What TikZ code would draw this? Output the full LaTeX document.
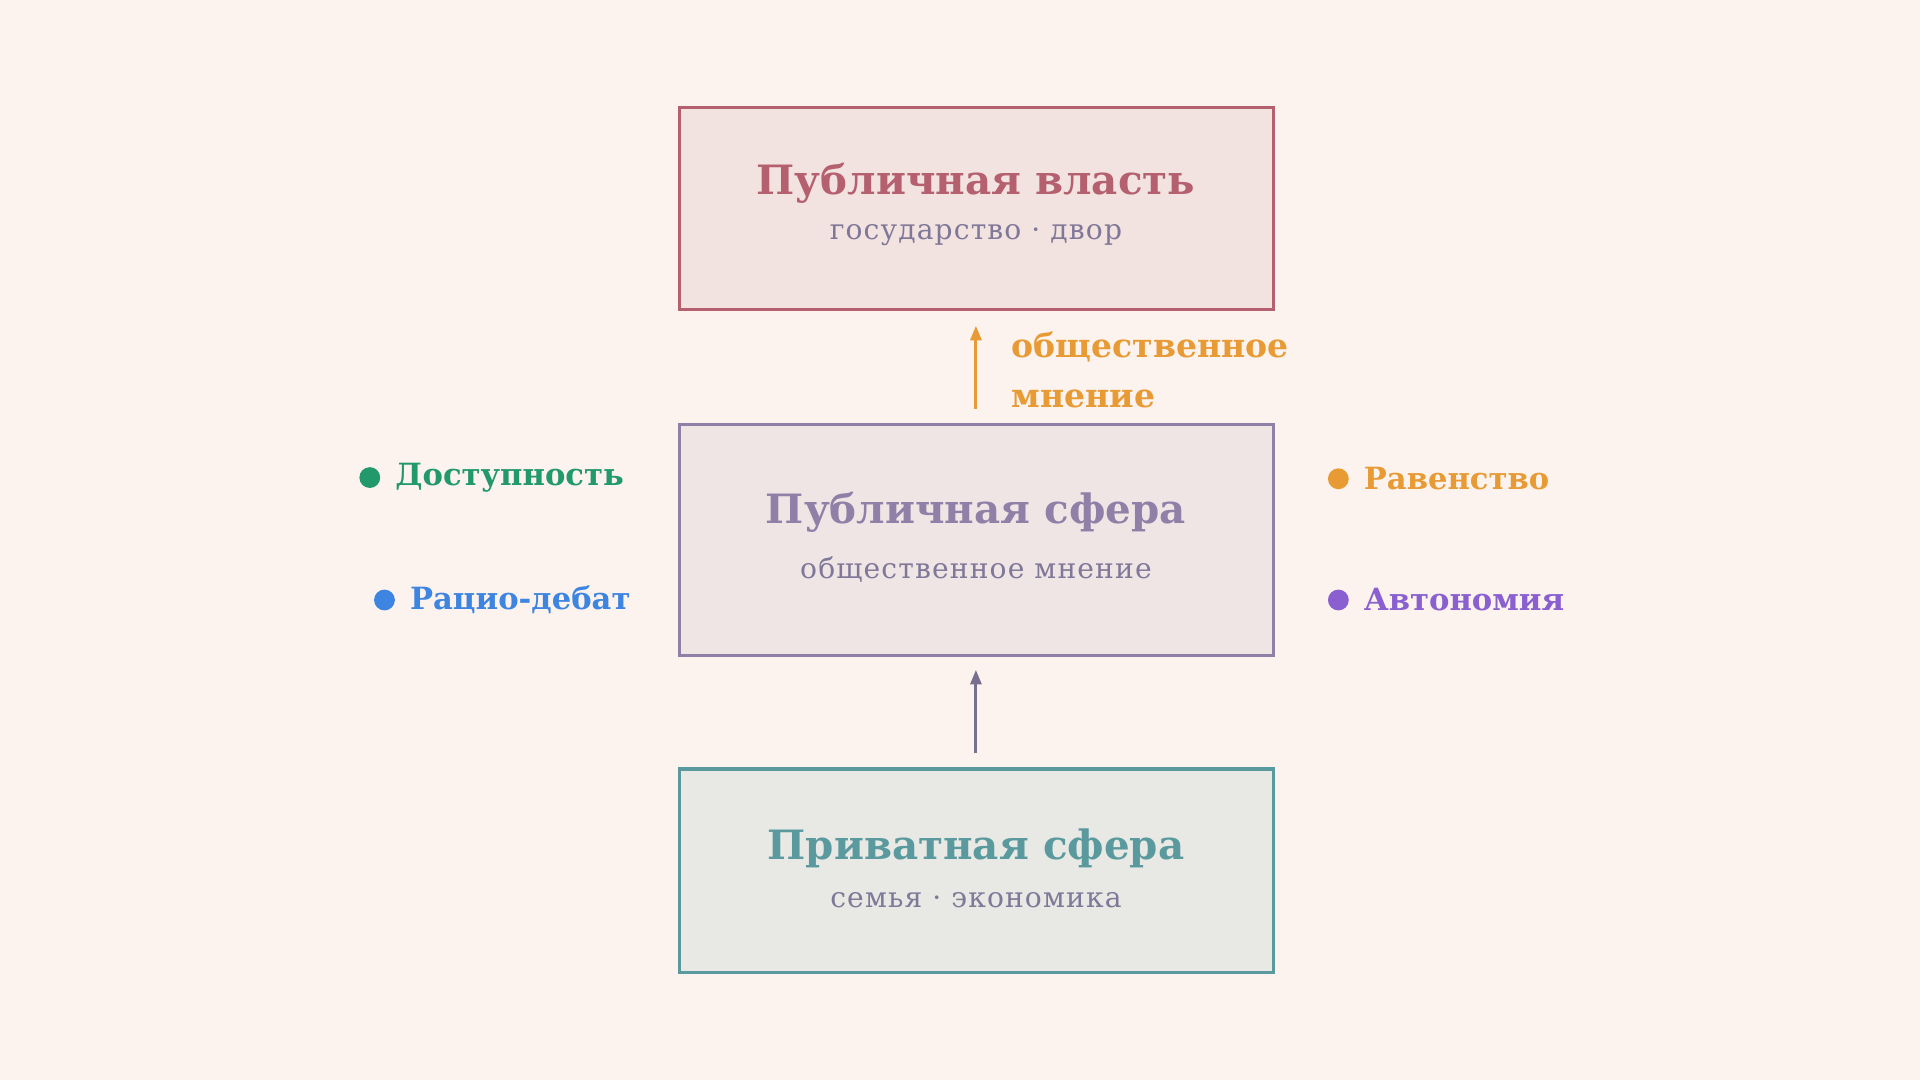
\documentclass[tikz,border=0pt]{standalone}
\usepackage{fontspec}
\setmainfont{DejaVu Serif}
\usetikzlibrary{positioning,arrows.meta}
\definecolor{bgc}{HTML}{FCF3EE}
\definecolor{powline}{HTML}{B5606F}
\definecolor{powfill}{HTML}{F2E2E0}
\definecolor{publine}{HTML}{9080A8}
\definecolor{pubfill}{HTML}{EFE5E5}
\definecolor{privline}{HTML}{5A9A9E}
\definecolor{privfill}{HTML}{E8E8E4}
\definecolor{subc}{HTML}{807898}
\definecolor{greenc}{HTML}{22996A}
\definecolor{bluec}{HTML}{3D85E0}
\definecolor{orangec}{HTML}{E89A35}
\definecolor{purplec}{HTML}{8A60D0}
\definecolor{arrowc}{HTML}{787090}
\tikzset{
  sphere/.style={draw=#1line, fill=#1fill, line width=2.5pt, minimum width=485pt, inner sep=0pt},
  title/.style={font=\fontsize{33}{38}\selectfont\bfseries, text=#1},
  sub/.style={font=\fontsize{23}{28}\selectfont\addfontfeature{LetterSpace=4}, text=subc},
  feat/.style={font=\fontsize{25}{30}\selectfont\bfseries, text=#1, inner sep=0pt},
  dot/.style={circle, fill=#1, inner sep=0pt, minimum size=17pt},
  flow/.style={-{Triangle[length=12pt,width=9pt]}, line width=2.5pt, draw=#1}
}
\begin{document}
\begin{tikzpicture}[x=1pt,y=-1pt]
  \fill[bgc] (0,0) rectangle (1568,882);
  \useasboundingbox (0,0) rectangle (1568,882);
  %spheres
  \node[sphere=pow, minimum height=165pt] (power) at (797.5,170.5) {};
  \node[sphere=pub, minimum height=188pt] (public) at (797.5,441) {};
  \node[sphere=priv, minimum height=166pt] (private) at (797.5,711) {};
  %texts
  \node[title=powline] (powerT) at (797,150) {Публичная власть};
  \node[sub] (powerS) at (797,192) {государство · двор};
  \node[title=publine] (publicT) at (797,418) {Публичная сфера};
  \node[sub] (publicS) at (797,465) {общественное мнение};
  \node[title=privline] (privateT) at (797,693) {Приватная сфера};
  \node[sub] (privateS) at (797,735) {семья · экономика};
  %arrows
  \coordinate (upA) at (797,334);
  \coordinate (upB) at (797,266);
  \coordinate (loA) at (797,615);
  \coordinate (loB) at (797,547);
  \draw[flow=orangec] (upA) -- (upB);
  \draw[flow=arrowc] (loA) -- (loB);
  \node[feat=orangec, anchor=west, align=left, font=\fontsize{27}{41}\selectfont\bfseries] (opinion) at (826,302) {общественное\\мнение};
  %features
  \node[dot=greenc] (d1) at (302,390) {};
  \node[feat=greenc, right=12pt of d1] (access) {Доступность};
  \node[dot=bluec] (d2) at (314,490) {};
  \node[feat=bluec, right=12pt of d2] (debate) {Рацио-дебат};
  \node[dot=orangec] (d3) at (1093,391) {};
  \node[feat=orangec, right=12pt of d3] (equal) {Равенство};
  \node[dot=purplec] (d4) at (1093,490) {};
  \node[feat=purplec, right=12pt of d4] (auto) {Автономия};
\end{tikzpicture}
\end{document}
